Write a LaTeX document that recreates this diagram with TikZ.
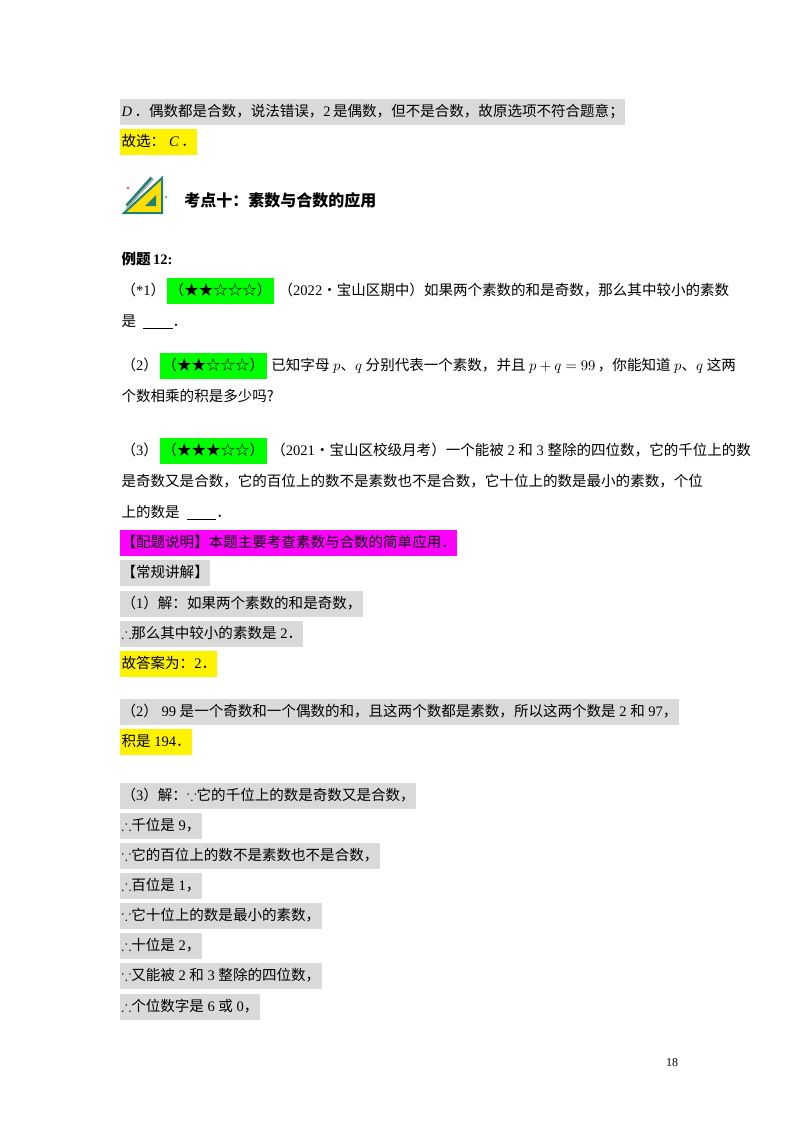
\documentclass[tikz,border=0pt]{standalone}
\usepackage{amssymb}
\usepackage{fontspec}
\setmainfont{Liberation Serif}
\newfontfamily\cjk{Noto Sans CJK SC}
\usetikzlibrary{positioning}
\definecolor{hlgray}{RGB}{217,217,217}
\definecolor{hlgreen}{RGB}{0,255,0}
\definecolor{hlmag}{RGB}{255,0,255}
\definecolor{teal1}{RGB}{30,130,120}
\newcommand{\zh}[1]{{\cjk #1}}
\newcommand{\zhdot}{\zh{．}}
\begin{document}
\begin{tikzpicture}[x=0.75pt,y=-0.75pt, node distance=0pt,
  every node/.style={font=\fontsize{10.9pt}{12pt}\selectfont, inner sep=0pt},
  ln/.style={anchor=west, inner xsep=1pt, inner ysep=4pt, text height=9pt, text depth=3pt},
  G/.style={ln, fill=hlgray},
  Y/.style={ln, fill=yellow},
  M/.style={ln, fill=hlmag},
  S/.style={ln, fill=hlgreen, inner xsep=2pt}]
 \useasboundingbox (0,0) rectangle (800,1132);
 \node [G] (l1) at (120,112) {\textit{D}\,\zhdot\zh{偶数都是合数，说法错误，}2\,\zh{是偶数，但不是合数，故原选项不符合题意；}};
 \node [Y] (l2) at (120,142) {\zh{故选：}\;\textit{C}\,\zhdot};
 % icon
 \fill [yellow!80!orange] (124,213) -- (162,213) -- (162,178) -- cycle;
 \draw [teal1, line width=1.5pt] (124,213) -- (162,213) -- (162,178) -- cycle;
 \fill [teal1] (145,206) -- (156,206) -- (156,195) -- cycle;
 \draw [teal1, line width=3pt] (127,206) -- (152,178);
 \draw [gray!60, line width=1.2pt] (126,209) -- (153,179);
 \fill [red!70] (128,188) circle (1.3);
 \fill [teal1!60] (166,197) circle (1.5);
 \node [anchor=west, font=\fontsize{12pt}{14pt}\selectfont\cjk\bfseries] (h) at (184,200) {考点十：素数与合数的应用};
 % example
 \node [ln] (ex) at (120,260) {{\cjk\bfseries 例题}\,\textbf{12:}};
 \node [ln] (q1) at (120,291) {\zh{（}*1\zh{）}};
 \node [S, right=of q1] (s1) {\zh{（★★☆☆☆）}};
 \node [ln, right=2pt of s1] (q1t) {\zh{（}2022\zh{•宝山区期中）如果两个素数的和是奇数，那么其中较小的素数}};
 \node [ln] (q1b) at (120,322) {\zh{是}\ \ \underline{\hspace{22pt}}\zhdot};
 \node [ln] (q2) at (120,366) {\zh{（}2\zh{）}};
 \node [S, right=of q2] (s2) {\zh{（★★☆☆☆）}};
 \node [ln, right=2pt of s2] (q2t) {\zh{已知字母} $p$\zh{、}$q$ \zh{分别代表一个素数，并且} $p+q=99$\,\zh{，你能知道} $p$\zh{、}$q$ \zh{这两}};
 \node [ln] (q2b) at (120,397) {\zh{个数相乘的积是多少吗?}};
 \node [ln] (q3) at (120,451) {\zh{（}3\zh{）}};
 \node [S, right=of q3] (s3) {\zh{（★★★☆☆）}};
 \node [ln, right=2pt of s3] (q3t) {\zh{（}2021\zh{•宝山区校级月考）一个能被} 2 \zh{和} 3 \zh{整除的四位数，它的千位上的数}};
 \node [ln] (q3b) at (120,482) {\zh{是奇数又是合数，它的百位上的数不是素数也不是合数，它十位上的数是最小的素数，个位}};
 \node [ln] (q3c) at (120,513) {\zh{上的数是}\ \ \underline{\hspace{22pt}}\zhdot};
 \node [M] (note) at (120,543) {\zh{【配题说明】本题主要考查素数与合数的简单应用．}};
 \node [G] (jj) at (120,573) {\zh{【常规讲解】}};
 % solutions
 \node [G] (a1) at (120,604) {\zh{（}1\zh{）解：如果两个素数的和是奇数，}};
 \node [G] (a2) at (120,634) {$\therefore$\zh{那么其中较小的素数是} 2\zhdot};
 \node [Y] (a3) at (120,664) {\zh{故答案为：}2\zhdot};
 \node [G] (b1) at (120,712) {\zh{（}2\zh{）} 99 \zh{是一个奇数和一个偶数的和，且这两个数都是素数，所以这两个数是} 2 \zh{和} 97\zh{，}};
 \node [Y] (b2) at (120,742) {\zh{积是} 194\zhdot};
 \node [G] (c1) at (120,796) {\zh{（}3\zh{）解：}$\because$\zh{它的千位上的数是奇数又是合数，}};
 \node [G] (c2) at (120,826) {$\therefore$\zh{千位是} 9\zh{，}};
 \node [G] (c3) at (120,856) {$\because$\zh{它的百位上的数不是素数也不是合数，}};
 \node [G] (c4) at (120,886) {$\therefore$\zh{百位是} 1\zh{，}};
 \node [G] (c5) at (120,916) {$\because$\zh{它十位上的数是最小的素数，}};
 \node [G] (c6) at (120,946) {$\therefore$\zh{十位是} 2\zh{，}};
 \node [G] (c7) at (120,976) {$\because$\zh{又能被} 2 \zh{和} 3 \zh{整除的四位数，}};
 \node [G] (c8) at (120,1007) {$\therefore$\zh{个位数字是} 6 \zh{或} 0\zh{，}};
 \node [font=\fontsize{9pt}{10pt}\selectfont] (pg) at (672,1063) {18};
\end{tikzpicture}
\end{document}
